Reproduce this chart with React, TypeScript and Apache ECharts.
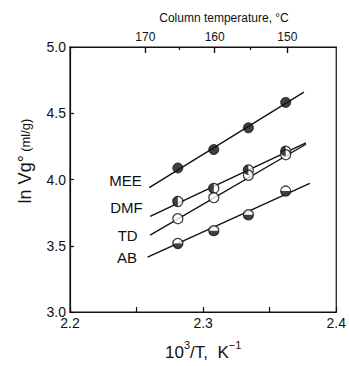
import React, { useEffect, useRef } from "react";
import * as echarts from "echarts";

// 10^3/T values of the measurements (K^-1)
const inverseT = [2.281, 2.308, 2.334, 2.362];
// ln Vg° measured values
const MEE = [4.087, 4.226, 4.39, 4.582];
const DMF = [3.834, 3.933, 4.072, 4.214];
const TD = [3.704, 3.863, 4.032, 4.187];
const AB = [3.517, 3.614, 3.734, 3.913];
// fitted straight lines: [x, y] start and end
const fitMEE = [[2.2595, 3.938], [2.3757, 4.659]];
const fitDMF = [[2.2602, 3.721], [2.3772, 4.276]];
const fitTD = [[2.2602, 3.58], [2.3772, 4.266]];
const fitAB = [[2.2583, 3.415], [2.3801, 3.97]];
// top axis (column temperature, °C)
const tempMajor = [170, 160, 150];
const tempMinor = [165, 155];
const yTicks = [3.0, 3.5, 4.0, 4.5, 5.0];

const toInv = (t: number) => 1000 / (t + 273.15);
const FONT = "Liberation Sans";
const BLACK = "#111";

const pts = (ys: number[]) => ys.map((y, i) => [inverseT[i], y]);

export default function App() {
  const ref = useRef<HTMLDivElement>(null);
  useEffect(() => {
    if (!ref.current) return;
    const chart = echarts.init(ref.current, null, { renderer: "svg" });

    const lineSeries = (name: string, d: number[][], labelOffsetY: number, dist: number) => ({
      type: "line",
      name,
      data: [
        {
          value: d[0],
          label: {
            show: true,
            formatter: name,
            position: "left",
            distance: dist,
            offset: [0, labelOffsetY],
            fontSize: 15,
            fontFamily: FONT,
            color: BLACK,
          },
        },
        { value: d[1], label: { show: false } },
      ],
      symbol: "circle",
      symbolSize: 1,
      showSymbol: true,
      showAllSymbol: true,
      itemStyle: { color: "rgba(0,0,0,0)" },
      lineStyle: { color: BLACK, width: 1.4 },
      z: 2,
    });

    const halfDisc = "path://M1,0 A1,1 0 0,0 1,2 Z"; // left half disc
    const bottomHalf = "path://M0,0 A1,1 0 0,0 2,0 Z"; // bottom half disc

    const option: any = {
      animation: false,
      grid: {
        left: 70,
        right: 7,
        top: 47,
        bottom: 51,
        show: true,
        borderColor: BLACK,
        borderWidth: 1.2,
      },
      xAxis: [
        {
          type: "value",
          position: "bottom",
          min: 2.2,
          max: 2.4,
          interval: 0.05,
          splitLine: { show: false },
          axisLine: { lineStyle: { color: BLACK, width: 1.2 } },
          axisTick: { inside: true, length: 5, lineStyle: { color: BLACK, width: 1.2 } },
          axisLabel: {
            color: BLACK,
            fontSize: 14,
            fontFamily: FONT,
            margin: 4,
            formatter: (v: number) =>
              Math.abs(v * 10 - Math.round(v * 10)) < 1e-6 ? v.toFixed(1) : "",
          },
          name: "{a|10}{s|3}{a|/T,  K}{s|−1}",
          nameLocation: "middle",
          nameGap: 27,
          nameTextStyle: {
            rich: {
              a: { fontSize: 17, fontFamily: FONT, color: BLACK, verticalAlign: "bottom", lineHeight: 22 },
              s: { fontSize: 11, fontFamily: FONT, color: BLACK, verticalAlign: "top", lineHeight: 22 },
            },
          },
        },
        {
          type: "value",
          position: "top",
          min: 2.2,
          max: 2.4,
          splitLine: { show: false },
          axisLine: { show: true, lineStyle: { color: BLACK, width: 1.2 } },
          axisTick: {
            show: true,
            inside: true,
            length: 6,
            customValues: tempMajor.map(toInv),
            lineStyle: { color: BLACK, width: 1.4 },
          },
          axisLabel: {
            show: true,
            customValues: tempMajor.map(toInv),
            formatter: (v: number) => String(Math.round(1000 / v - 273.15)),
            fontSize: 12,
            fontFamily: FONT,
            color: BLACK,
            margin: 4,
          },
        },
        {
          type: "value",
          position: "top",
          min: 2.2,
          max: 2.4,
          splitLine: { show: false },
          axisLine: { show: false },
          axisTick: {
            show: true,
            inside: true,
            length: 3,
            customValues: tempMinor.map(toInv),
            lineStyle: { color: BLACK, width: 1.2 },
          },
          axisLabel: { show: false },
        },
      ],
      yAxis: {
        type: "value",
        min: yTicks[0],
        max: yTicks[yTicks.length - 1],
        interval: 0.5,
        splitLine: { show: false },
        axisLine: { show: true, lineStyle: { color: BLACK, width: 1.2 } },
        axisTick: { inside: true, length: 4, lineStyle: { color: BLACK, width: 1.2 } },
        axisLabel: {
          color: BLACK,
          fontSize: 14,
          fontFamily: FONT,
          margin: 4,
          formatter: (v: number) => v.toFixed(1),
        },
      },
      graphic: [
        {
          type: "text",
          x: 224,
          y: 18,
          style: {
            text: "Column temperature, °C",
            font: `12px "${FONT}"`,
            fill: BLACK,
            textAlign: "center",
            textVerticalAlign: "middle",
          },
        },
        {
          type: "text",
          x: 25,
          y: 161,
          rotation: Math.PI / 2,
          style: {
            text: "{a|ln Vg°} {b|(ml/g)}",
            textAlign: "center",
            textVerticalAlign: "middle",
            rich: {
              a: { fontSize: 18, fontFamily: FONT, fill: BLACK },
              b: { fontSize: 13, fontFamily: FONT, fill: BLACK },
            },
          },
        },
      ],
      series: [
        lineSeries("MEE", fitMEE, -7, 7),
        lineSeries("DMF", fitDMF, -9, 7),
        lineSeries("TD", fitTD, 0, 12),
        lineSeries("AB", fitAB, 0, 10),
        // MEE: filled
        {
          type: "scatter",
          data: pts(MEE),
          symbol: "circle",
          symbolSize: 10,
          itemStyle: { color: BLACK, borderColor: BLACK, borderWidth: 1 },
          z: 3,
        },
        // open circles base for DMF, TD, AB
        {
          type: "scatter",
          data: [...pts(DMF), ...pts(TD), ...pts(AB)],
          symbol: "circle",
          symbolSize: 10,
          itemStyle: { color: "#fff", borderColor: BLACK, borderWidth: 1.3 },
          z: 3,
        },
        // DMF left half filled
        {
          type: "scatter",
          data: pts(DMF),
          symbol: halfDisc,
          symbolSize: [5, 10],
          symbolOffset: [-2.5, 0],
          itemStyle: { color: BLACK },
          z: 4,
        },
        // AB bottom half filled
        {
          type: "scatter",
          data: pts(AB),
          symbol: bottomHalf,
          symbolSize: [10, 5],
          symbolOffset: [0, 2.5],
          itemStyle: { color: BLACK },
          z: 4,
        },
      ],
    };
    chart.setOption(option);
    return () => chart.dispose();
  }, []);
  return <div ref={ref} style={{ width: 349, height: 366, position: "absolute", left: 0, top: 0 }} />;
}
